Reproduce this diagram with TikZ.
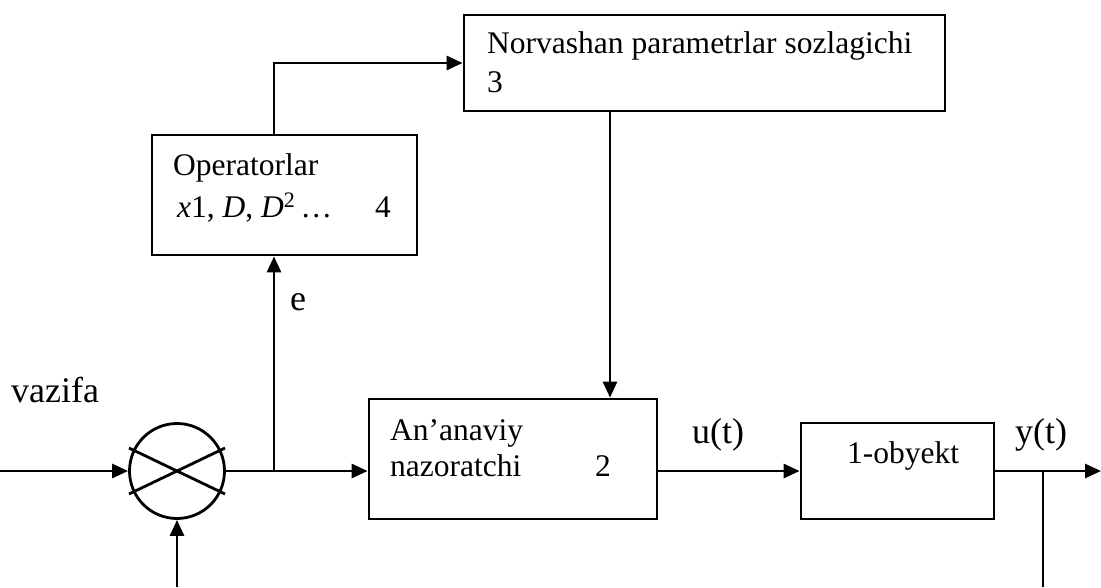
\documentclass[tikz,border=0pt]{standalone}
\usepackage{fontspec}
\setmainfont{Liberation Serif}
\usetikzlibrary{arrows.meta,calc}
\tikzset{
  blk/.style={draw,line width=2.8pt,rectangle,inner sep=0pt},
  conn/.style={line width=2.8pt},
  arr/.style={conn,-{Triangle[length=16pt,width=14pt]}},
  txt/.style={anchor=base west,inner sep=0pt,font=\fontsize{31.5}{36}\selectfont},
  lbl/.style={anchor=base west,inner sep=0pt,font=\fontsize{36}{40}\selectfont}
}
\begin{document}
\begin{tikzpicture}[x=1pt,y=-1pt]
\useasboundingbox (0,0) rectangle (1101,587);
% blocks
\node[blk,minimum width=481pt,minimum height=96pt] (b3) at (704.5,63) {};
\node[blk,minimum width=265pt,minimum height=120pt] (b4) at (284.5,195) {};
\node[blk,minimum width=288pt,minimum height=120pt] (b2) at (513,459) {};
\node[blk,minimum width=193pt,minimum height=96pt] (b1) at (897.5,471) {};
\node[draw,circle,line width=2.8pt,minimum size=95pt,inner sep=0pt] (s) at (177,471) {};
\draw[conn] (s.center) ++(-48,-23) -- ++(96,46);
\draw[conn] (s.center) ++(-48,23) -- ++(96,-46);
% texts in blocks
\node[txt] (t3a) at (487,53) {Norvashan parametrlar sozlagichi};
\node[txt] (t3b) at (487,92) {3};
\node[txt] (t4a) at (173,175) {Operatorlar};
\node[txt] (t4b) at (177,217) {{\itshape x}1, {\itshape D}, {\itshape D}\textsuperscript{2}\,\ldots};
\node[txt] (t4c) at (375,217) {4};
\node[txt] (t2a) at (390,440) {An’anaviy};
\node[txt] (t2b) at (390,476) {nazoratchi};
\node[txt] (t2c) at (595,476) {2};
\node[txt] (t1) at (847,463) {1-obyekt};
% labels
\node[lbl] (lv) at (11,402) {vazifa};
\node[lbl] (le) at (290,310) {e};
\node[lbl] (lu) at (692,443) {u(t)};
\node[lbl] (ly) at (1015,443) {y(t)};
% coordinates
\coordinate (in) at (0,471);
\coordinate (fb) at (177,587);
\coordinate (j1) at (274,471);
\coordinate (c3) at (610,111);
\coordinate (j2) at (1043,471);
\coordinate (out) at (1101,471);
\coordinate (fbo) at (1043,587);
% connectors
\draw[arr] (in) -- (s.west);
\draw[arr] (fb) -- (s.south);
\draw[conn] (s.east) -- (j1);
\draw[arr] (j1) -- (j1 -| b2.west);
\draw[arr] (j1) -- (j1 |- b4.south);
\draw[arr] (j1 |- b4.north) |- (b3.west);
\draw[arr] (c3) -- (c3 |- b2.north);
\draw[arr] (j1 -| b2.east) -- (b1.west);
\draw[arr] (b1.east) -- (out);
\draw[conn] (j2) -- (fbo);
\end{tikzpicture}
\end{document}
